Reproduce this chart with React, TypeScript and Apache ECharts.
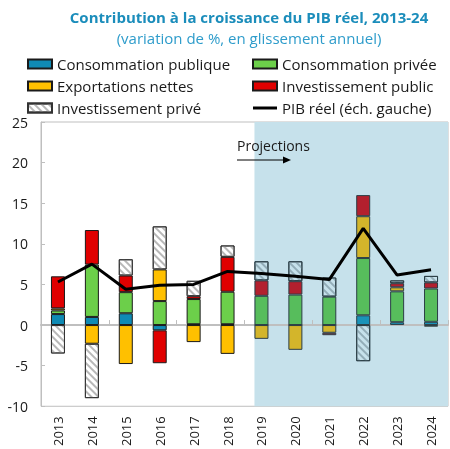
import React, { useEffect, useRef } from 'react';
import * as echarts from 'echarts';

const years = ['2013', '2014', '2015', '2016', '2017', '2018', '2019', '2020', '2021', '2022', '2023', '2024'];
const consPublique = [1.35, 1.0, 1.45, -0.65, 0.1, 0.1, 0, 0, 0, 1.2, 0.35, 0.4];
const consPrivee = [0.45, 6.45, 2.6, 2.95, 3.1, 4.0, 3.6, 3.75, 3.5, 7.05, 3.8, 4.1];
const exportNettes = [0.25, -2.3, -4.8, 3.9, -2.1, -3.55, -1.7, -3.05, -0.95, 5.15, 0.5, -0.2];
const investPublic = [3.95, 4.25, 2.05, -4.05, 0.35, 4.3, 1.9, 1.65, -0.3, 2.6, 0.5, 0.75];
const investPrive = [-3.5, -6.7, 2.0, 5.3, 1.9, 1.4, 2.35, 2.45, 2.35, -4.45, 0.35, 0.8];
const pibReel = [5.3, 7.5, 4.4, 4.9, 5.0, 6.6, 6.35, 6.0, 5.6, 11.9, 6.15, 6.8];
const yTicks = { min: -10, max: 25, interval: 5 };
const projectionStart = 6;

const FONT = '"Open Sans", "Noto Sans", sans-serif';
const BAR_W = 14;

export default function App() {
  const ref = useRef<HTMLDivElement>(null);
  useEffect(() => {
    const chart = echarts.init(ref.current!, null, { renderer: 'svg' });

    const histBorder = '#1a1a1a';
    const projBorder = '#2b3e46';
    const shade = '#c6e1eb';

    const mk = (vals: number[], proj: string) =>
      vals.map((v, i) =>
        i >= projectionStart
          ? { value: v, itemStyle: { color: proj, borderColor: projBorder } }
          : { value: v }
      );

    const hatch = (color: string) => ({
      symbol: 'rect',
      symbolSize: 1,
      dashArrayX: [1, 0],
      dashArrayY: [2, 3],
      rotation: Math.PI / 4,
      color,
    });

    const barBase = (name: string, vals: number[], hist: string, proj: string) => ({
      name,
      type: 'bar',
      stack: 'total',
      barWidth: BAR_W,
      z: 3,
      itemStyle: { color: hist, borderColor: histBorder, borderWidth: 1 },
      data: mk(vals, proj),
    });

    const hatchedData = investPrive.map((v, i) =>
      i >= projectionStart
        ? { value: v, itemStyle: { color: shade, borderColor: projBorder, decal: hatch('#93adb8') } }
        : { value: v }
    );

    const legendCommon = {
      orient: 'vertical',
      itemWidth: 24,
      itemHeight: 9,
      itemGap: 6,
      padding: 0,
      top: 56,
      textStyle: { fontSize: 15, lineHeight: 16, color: '#1a1a1a', fontFamily: FONT },
    };
    const lineIcon = 'path://M0,0 L24,0 L24,3 L0,3 Z';

    const option: any = {
      animation: false,
      grid: { left: 41, right: 2, top: 122, bottom: 41, show: true, borderColor: '#bfbfbf', borderWidth: 1, backgroundColor: 'transparent' },
      legend: [
        {
          ...legendCommon,
          left: 27,
          data: [
            { name: 'Consommation publique', icon: 'rect' },
            { name: 'Exportations nettes', icon: 'rect' },
            { name: 'Investissement privé', icon: 'rect' },
          ],
        },
        {
          ...legendCommon,
          left: 252,
          data: [
            { name: 'Consommation privée', icon: 'rect' },
            { name: 'Investissement public', icon: 'rect' },
            { name: 'PIB réel (éch. gauche)', icon: lineIcon, itemStyle: { color: '#000', borderWidth: 0 } },
          ],
        },
      ],
      xAxis: [
        {
          type: 'category',
          data: years,
          position: 'bottom',
          axisLine: { onZero: false, show: false },
          axisTick: { show: false },
          axisLabel: { rotate: 90, fontSize: 13, color: '#1a1a1a', fontFamily: FONT, margin: 10 },
        },
        {
          type: 'category',
          data: years,
          position: 'top',
          z: 2,
          axisLine: { onZero: true, show: true, lineStyle: { color: '#bfbfbf', width: 2 } },
          axisTick: { show: true, inside: false, length: 5, lineStyle: { color: '#bfbfbf' } },
          axisLabel: { show: false },
        },
      ],
      yAxis: {
        type: 'value',
        min: yTicks.min,
        max: yTicks.max,
        interval: yTicks.interval,
        splitLine: { show: false },
        axisLine: { show: true, lineStyle: { color: '#bfbfbf' } },
        axisTick: { show: true, inside: true, length: 4, lineStyle: { color: '#bfbfbf' } },
        axisLabel: { fontSize: 14, color: '#1a1a1a', fontFamily: FONT, margin: 13 },
      },
      series: [
        barBase('Consommation publique', consPublique, '#0f8ab4', '#1a93b9'),
        barBase('Consommation privée', consPrivee, '#6ccf4a', '#57bd5c'),
        barBase('Exportations nettes', exportNettes, '#ffc000', '#d3b52b'),
        barBase('Investissement public', investPublic, '#e00000', '#b3202e'),
        {
          name: 'Investissement privé',
          type: 'bar',
          stack: 'total',
          barWidth: BAR_W,
          z: 3,
          itemStyle: { color: '#ffffff', borderColor: '#333333', borderWidth: 1, decal: hatch('#b8b8b8') },
          data: hatchedData,
        },
        {
          name: 'PIB réel (éch. gauche)',
          type: 'line',
          z: 5,
          symbol: 'none',
          lineStyle: { color: '#000000', width: 3 },
          itemStyle: { color: '#000000' },
          data: pibReel,
        },
      ],
      graphic: [
        {
          type: 'text',
          x: 249,
          y: 17,
          style: { text: 'Contribution à la croissance du PIB réel, 2013-24', font: `bold 15px ${FONT}`, fill: '#1b8dbb', textAlign: 'center', textVerticalAlign: 'middle' },
        },
        {
          type: 'text',
          x: 249,
          y: 38,
          style: { text: '(variation de %, en glissement annuel)', font: `15px ${FONT}`, fill: '#2e9ccb', textAlign: 'center', textVerticalAlign: 'middle' },
        },
      ],
    };
    chart.setOption(option);

    const xStart = (chart.convertToPixel({ xAxisIndex: 0 }, years[projectionStart]) as number) - BAR_W / 2;
    const top = chart.convertToPixel({ yAxisIndex: 0 }, yTicks.max) as number;
    const bottom = chart.convertToPixel({ yAxisIndex: 0 }, yTicks.min) as number;
    const right = 448;
    chart.setOption({
      graphic: [
        option.graphic[0],
        option.graphic[1],
        { type: 'rect', z: 1, shape: { x: xStart, y: top, width: right - xStart, height: bottom - top }, style: { fill: shade } },
        { type: 'text', z: 10, x: 237, y: 145, style: { text: 'Projections', font: `14px ${FONT}`, fill: '#1a1a1a', textVerticalAlign: 'middle' } },
        { type: 'line', z: 10, shape: { x1: 237, y1: 160, x2: 284, y2: 160 }, style: { stroke: '#000', lineWidth: 1 } },
        { type: 'polygon', z: 10, shape: { points: [[283, 156.5], [291, 160], [283, 163.5]] }, style: { fill: '#000' } },
      ],
    });

    return () => chart.dispose();
  }, []);
  return <div ref={ref} style={{ position: 'fixed', left: 0, top: 0, width: 450, height: 449 }} />;
}
